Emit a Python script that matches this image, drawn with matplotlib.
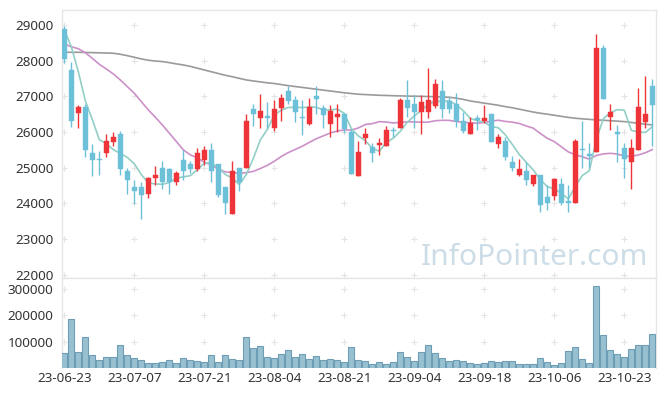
import numpy as np
import pandas as pd
import matplotlib
matplotlib.use("Agg")
import matplotlib.pyplot as plt

# ---------------- data ----------------
tick_labels = ["23-06-23", "23-07-07", "23-07-21", "23-08-04", "23-08-21",
               "23-09-04", "23-09-18", "23-10-06", "23-10-23"]
tick_index = [0, 10, 20, 30, 40, 50, 60, 70, 80]

opens = [28888, 27740, 26546, 26705, 25417, 25250, 25408, 25725, 25949, 24913,
         24466, 24466, 24251, 24699, 24988, 24970, 24587, 25221, 25109, 24960,
         25203, 25501, 25109, 24466, 23700, 24988, 24988, 26640, 26387, 26453,
         26126, 26686, 27153, 26892, 26406, 26238, 27013, 26686, 26238, 26434,
         26509, 26014, 24755, 25846, 25567, 25650, 25595, 26061, 26126, 26901,
         26789, 26556, 26556, 26742, 27153, 26873, 26780, 26313, 25940, 26369,
         26313, 26509, 25679, 25753, 25165, 24792, 24914, 24540, 24792, 24167,
         24195, 24550, 24074, 24000, 25520, 25360, 25436, 28366, 26434, 26005,
         25548, 25156, 25492, 26294, 27293]
highs = [28981, 27974, 26761, 26798, 25660, 25473, 25949, 26005, 26023, 24979,
         24652, 24596, 24727, 25035, 25175, 25000, 24895, 25500, 25175, 25566,
         25613, 25706, 25109, 24466, 25175, 24988, 26518, 26780, 27078, 26836,
         26892, 27078, 27283, 27003, 26892, 26947, 27283, 26761, 26761, 26780,
         26509, 26080, 25753, 26126, 25688, 25846, 26182, 26155, 26947, 27461,
         27041, 27041, 27787, 27479, 27461, 26994, 27087, 26574, 26434, 26481,
         26761, 26509, 25949, 25875, 25315, 25250, 25156, 24792, 24792, 24522,
         24708, 24708, 24522, 25800, 26313, 25690, 28739, 28440, 26780, 26201,
         25688, 25800, 27227, 27582, 27479]
lows = [27927, 26136, 26108, 25296, 24764, 24800, 25287, 25613, 24801, 24260,
        23980, 23570, 24139, 24522, 24400, 24270, 24503, 24661, 24848, 24895,
        25081, 24596, 24176, 23700, 23700, 24335, 24988, 26173, 26108, 26108,
        26042, 26313, 26789, 26294, 25921, 26201, 26509, 26126, 25856, 26014,
        25968, 24830, 24755, 25660, 25156, 25361, 25595, 25875, 26126, 26434,
        26126, 25949, 26388, 26668, 26388, 26528, 26155, 25968, 25940, 26061,
        26248, 25735, 25548, 25221, 24895, 24774, 24503, 24475, 23757, 23822,
        24102, 23962, 23757, 24000, 24988, 24988, 25436, 26929, 26061, 25147,
        24708, 24410, 25492, 26108, 25613]
closes = [28039, 26322, 26705, 25483, 25203, 25220, 25762, 25865, 24951, 24643,
          24335, 24242, 24708, 24801, 24587, 24587, 24848, 24895, 24970, 25417,
          25501, 24895, 24242, 24000, 24914, 24587, 26313, 26500, 26584, 26387,
          26640, 26957, 26882, 26574, 26387, 26695, 26938, 26481, 26593, 26509,
          26089, 24830, 25427, 25949, 25399, 25706, 26061, 26033, 26901, 26686,
          26574, 26836, 26901, 27339, 26640, 26640, 26313, 26042, 26266, 26350,
          26388, 25735, 25856, 25287, 24988, 24970, 24643, 24792, 23943, 24000,
          24671, 24000, 24000, 25753, 25490, 25340, 28366, 26929, 26574, 25940,
          25240, 25548, 26705, 26509, 26752]
volumes = [55700, 184800, 59500, 116500, 48000, 30000, 40500, 40500, 86000, 48000,
           36700, 29000, 17700, 17700, 21500, 29000, 17700, 36700, 29000, 25000,
           21500, 48000, 21500, 48000, 33000, 29000, 116500, 74700, 82000, 40500,
           36700, 52000, 67000, 40500, 52000, 33000, 44000, 29000, 33000, 29000,
           23000, 78500, 30000, 25000, 14000, 23000, 14000, 23000, 59500, 40500,
           25000, 59500, 86000, 55700, 36700, 25000, 29000, 25000, 17700, 14000,
           17700, 25000, 21500, 25000, 25000, 14000, 14000, 14000, 36700, 21500,
           10000, 17700, 63000, 78500, 33000, 17700, 310000, 124000, 67000, 52000,
           40500, 71000, 86000, 86000, 128000]
# moving-average values read from the chart where earlier history is not shown
ma5_head = [28860, 28393, 27694, 26880]
ma20_head = [28468, 28392, 28336, 28224, 28067, 27899, 27768, 27628, 27460, 27272,
             27087, 26852, 26620, 26416, 26200, 25968, 25735, 25500, 25360]
ma_long = [28235, 28235, 28235, 28230, 28225, 28220, 28215, 28207, 28180, 28140,
           28095, 28050, 28011, 27990, 27974, 27945, 27910, 27880, 27840, 27790,
           27740, 27690, 27640, 27591, 27550, 27505, 27460, 27432, 27405, 27380,
           27360, 27330, 27300, 27275, 27250, 27225, 27200, 27175, 27150, 27125,
           27100, 27080, 27060, 27050, 27040, 27030, 27025, 27018, 27012, 27008,
           27004, 27000, 26995, 26990, 26985, 26975, 26950, 26915, 26870, 26840,
           26810, 26780, 26750, 26712, 26680, 26640, 26600, 26560, 26527, 26500,
           26470, 26440, 26410, 26387, 26370, 26355, 26340, 26330, 26318, 26305,
           26293, 26270, 26245, 26220, 26200]
price_ticks = [22000, 23000, 24000, 25000, 26000, 27000, 28000, 29000]
vol_ticks = [100000, 200000, 300000]

# ---------------- style ----------------
plt.rcParams['font.family'] = ['Noto Sans', 'DejaVu Sans']
UP = "#ee3438"
DOWN = "#6cc1d9"
GRIDC = "#e4e4e4"
FRAME = "#e6e6e6"
TXT = "#333333"

o = np.array(opens, float); h = np.array(highs, float)
l = np.array(lows, float); c = np.array(closes, float)
v = np.array(volumes, float)
x = np.arange(len(c))

cs = pd.Series(c)
ma5 = cs.rolling(5).mean().to_numpy()
ma5[:len(ma5_head)] = ma5_head
ma20 = cs.rolling(20).mean().to_numpy()
ma20[:len(ma20_head)] = ma20_head

W, H = 665, 396
fig = plt.figure(figsize=(W / 100, H / 100), dpi=100)
fig.patch.set_facecolor("white")

def ax_rect(left, top, right, bottom):
    return [left / W, 1 - bottom / H, (right - left) / W, (bottom - top) / H]

ax = fig.add_axes(ax_rect(62, 10, 655.5, 278))
axv = fig.add_axes(ax_rect(62, 278, 655.5, 368), sharex=ax)

xlim = (-0.33, 84.45)
for a in (ax, axv):
    a.set_xlim(*xlim)
    for s in a.spines.values():
        s.set_color(FRAME)
        s.set_linewidth(1.0)
    a.tick_params(length=0, colors=TXT, labelsize=9.7)

ax.set_ylim(21910, 29420)
axv.set_ylim(0, 342000)
axv.spines['bottom'].set_visible(False)

# grid "+" marks
for a, yt in ((ax, price_ticks), (axv, vol_ticks)):
    gx, gy = np.meshgrid(tick_index, yt)
    a.plot(gx.ravel(), gy.ravel(), linestyle="none", marker="+", ms=4,
           mew=0.8, color=GRIDC, zorder=0)

# watermark
fig.text(648 / W, 1 - 265 / H, "InfoPointer.com", ha="right", va="baseline",
         fontsize=21.5, color="#cddde8", family=["Noto Sans", "DejaVu Sans"],
         zorder=0)

# moving averages
ax.plot(x, ma_long, color="#9a9a9a", lw=1.2, zorder=2)
ax.plot(x, ma20, color="#cc90c9", lw=1.2, zorder=2)
ax.plot(x, ma5, color="#92cfc6", lw=1.2, zorder=2)

# candles
up = c >= o
col = np.where(up, UP, DOWN)
ax.vlines(x, l, h, colors=col, lw=1.0, zorder=3)
bottom = np.minimum(o, c)
height = np.maximum(np.abs(c - o), 35)
ax.bar(x, height, bottom=bottom, width=0.68, color=col, edgecolor=col,
       linewidth=0.3, zorder=4)

# volume
axv.bar(x, v, width=0.86, color="#98c0d1", edgecolor="#6e9eb5", linewidth=0.8,
        zorder=3)

ax.set_yticks(price_ticks)
ax.set_yticklabels([str(t) for t in price_ticks])
axv.set_yticks(vol_ticks)
axv.set_yticklabels([str(t) for t in vol_ticks])
axv.set_xticks(tick_index)
axv.set_xticklabels(tick_labels)
ax.tick_params(axis="x", labelbottom=False)
ax.tick_params(axis="y", pad=6)
axv.tick_params(axis="y", pad=6)
axv.tick_params(axis="x", pad=3)

fig.savefig("out.png", dpi=100, facecolor="white")
